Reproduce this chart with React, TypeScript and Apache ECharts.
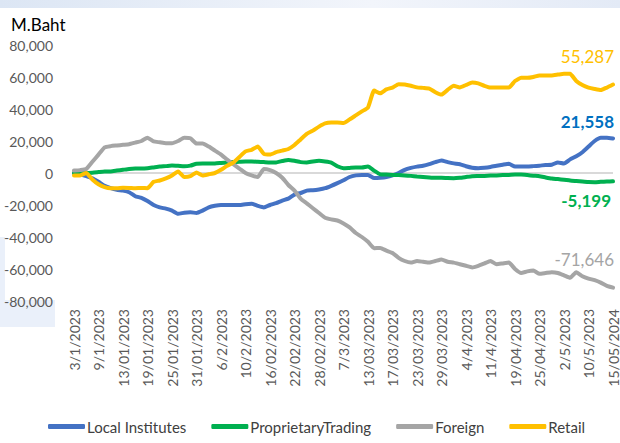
import React, { useEffect, useRef } from "react";
import * as echarts from "echarts";

const categories = [
  "3/1/2023", "4/1/2023", "5/1/2023", "6/1/2023", "9/1/2023", "10/1/2023", "11/1/2023", "12/1/2023", "13/01/2023", "16/01/2023",
  "17/01/2023", "18/01/2023", "19/01/2023", "20/01/2023", "23/01/2023", "24/01/2023", "25/01/2023", "26/01/2023", "27/01/2023", "30/01/2023",
  "31/01/2023", "1/2/2023", "2/2/2023", "3/2/2023", "6/2/2023", "7/2/2023", "8/2/2023", "9/2/2023", "10/2/2023", "13/02/2023",
  "14/02/2023", "15/02/2023", "16/02/2023", "17/02/2023", "20/02/2023", "21/02/2023", "22/02/2023", "23/02/2023", "24/02/2023", "27/02/2023",
  "28/02/2023", "1/3/2023", "2/3/2023", "3/3/2023", "7/3/2023", "8/3/2023", "9/3/2023", "10/3/2023", "13/03/2023", "14/03/2023",
  "15/03/2023", "16/03/2023", "17/03/2023", "20/03/2023", "21/03/2023", "22/03/2023", "23/03/2023", "24/03/2023", "27/03/2023", "28/03/2023",
  "29/03/2023", "30/03/2023", "31/03/2023", "3/4/2023", "4/4/2023", "5/4/2023", "7/4/2023", "10/4/2023", "11/4/2023", "12/4/2023",
  "17/04/2023", "18/04/2023", "19/04/2023", "20/04/2023", "21/04/2023", "24/04/2023", "25/04/2023", "26/04/2023", "27/04/2023", "28/04/2023",
  "2/5/2023", "3/5/2023", "5/5/2023", "9/5/2023", "10/5/2023", "11/5/2023", "12/5/2023", "14/05/2024", "15/05/2024",
];

const localInstitutes = [
  0, -800, -2000, -3400, -5500, -8000, -9500, -10500, -11000, -12000,
  -14500, -15500, -17500, -20000, -21500, -22300, -23500, -25500, -24800, -24500,
  -25000, -23500, -21500, -20500, -20000, -20000, -20000, -20000, -19500, -19200,
  -20500, -21500, -20000, -18800, -17200, -16000, -13500, -12500, -11000, -10800,
  -10300, -9500, -8000, -6300, -4500, -2500, -1500, -1200, -1200, -3200,
  -3000, -2500, -1500, 0, 2000, 3200, 4000, 4500, 5500, 6800,
  7800, 6800, 6000, 5500, 4200, 3300, 3000, 3300, 3800, 4500,
  5200, 5800, 4000, 4000, 4000, 4300, 4600, 5000, 5200, 6600,
  6000, 8500, 10500, 13000, 16500, 20000, 22000, 22000, 21558,
];

const proprietaryTrading = [
  0, 0, 0, 200, 600, 1000, 1000, 1500, 2000, 2500,
  2800, 2800, 3000, 3500, 4000, 4300, 4700, 4500, 4200, 4600,
  5800, 5900, 5900, 6000, 6300, 6600, 6800, 7000, 7200, 7200,
  7000, 6800, 6600, 6600, 7500, 8200, 7600, 6800, 6600, 7200,
  7600, 7200, 6500, 4200, 3000, 3200, 3400, 3400, 4000, 1500,
  -800, -1000, -1200, -1300, -1500, -1800, -2200, -2500, -2800, -3000,
  -3000, -3200, -3300, -3000, -2500, -2000, -1900, -1800, -1600, -1500,
  -1300, -1200, -1000, -1000, -1300, -1700, -2000, -2800, -3500, -3800,
  -4200, -4700, -5000, -5300, -5700, -5800, -5500, -5300, -5199,
];

const foreign = [
  1500, 1800, 2500, 7000, 11500, 16000, 16800, 17200, 17600, 18000,
  19000, 20000, 22000, 19700, 19200, 18600, 18600, 20000, 22000, 21700,
  18400, 18400, 16500, 14000, 11500, 8400, 5500, 2800, 0, -1500,
  -2500, 2500, 1800, 0, -3000, -7500, -11000, -16000, -19000, -22000,
  -25000, -28000, -29000, -29700, -31500, -34000, -37500, -40000, -43000, -47000,
  -46800, -48500, -50000, -53000, -55000, -56000, -55000, -55500, -56000, -55000,
  -54000, -55500, -56000, -57000, -58000, -59000, -58000, -56500, -55000, -57000,
  -56500, -56000, -60000, -62500, -61500, -61000, -63000, -62500, -62000, -62500,
  -64000, -65500, -62000, -64500, -66000, -67000, -68500, -70500, -71646,
];

const retail = [
  -1500, -1500, 0, -4000, -7000, -8800, -9500, -9500, -9200, -9300,
  -9500, -9300, -9500, -5500, -4700, -3300, -1500, 1000, -2500, -2000,
  300, -1500, -800, 0, 2000, 4500, 6500, 10000, 13500, 14500,
  16500, 12000, 11500, 13000, 14000, 15000, 17500, 21000, 24500, 26500,
  29000, 31000, 31500, 31500, 31200, 33500, 36000, 38500, 41000, 51500,
  49800, 52300, 53400, 55500, 55300, 54500, 53500, 53200, 52800, 50500,
  49000, 52000, 54500, 53500, 55000, 56500, 56000, 54500, 53400, 53400,
  53400, 53400, 57500, 59500, 59500, 60000, 61000, 61000, 61000, 61500,
  62000, 62000, 57500, 55000, 53400, 52500, 51800, 53400, 55287,
];

const seriesNames = ["Local Institutes", "ProprietaryTrading", "Foreign", "Retail"];
const endLabelTexts = ["21,558", "-5,199", "-71,646", "55,287"];
const yMin = -80000;
const yMax = 80000;
const yInterval = 20000;

const FONT = "Lato, 'Noto Sans', sans-serif";

export default function App() {
  const ref = useRef<HTMLDivElement>(null);

  useEffect(() => {
    if (!ref.current) return;
    const chart = echarts.init(ref.current, undefined, { renderer: "svg" });
    const colors = ["#4472C4", "#00B050", "#A5A5A5", "#FFC000"];
    const labelColors = ["#0070C0", "#00B050", "#A5A5A5", "#FFC000"];
    const labelWeights = ["bold", "bold", "normal", "normal"];
    const labelOffsets = [[1, -17], [-2, 19], [1, -28], [1, -28]];
    const datasets = [localInstitutes, proprietaryTrading, foreign, retail];
    const zeroIdx = (0 - yMin) / yInterval;
    const splitColors = [];
    for (let i = 0; i <= (yMax - yMin) / yInterval; i++) {
      splitColors.push(i === zeroIdx ? "#D9D9D9" : "rgba(0,0,0,0)");
    }

    chart.setOption({
      animation: false,
      textStyle: { fontFamily: FONT },
      graphic: [
        {
          type: "rect",
          z: -10,
          shape: { x: 0, y: 0, width: 620, height: 8 },
          style: {
            fill: new echarts.graphic.LinearGradient(0, 0, 1, 0, [
              { offset: 0, color: "#DCE6F4" },
              { offset: 0.6, color: "#F2F5FB" },
              { offset: 1, color: "#E3EAF6" },
            ]),
          },
        },
        {
          type: "rect",
          z: -10,
          shape: { x: 0, y: 237, width: 5, height: 65 },
          style: { fill: "#EAF0FA" },
        },
        {
          type: "rect",
          z: -10,
          shape: { x: 0, y: 300, width: 55, height: 27 },
          style: { fill: "#EAF0FA" },
        },
      ],
      title: {
        text: "M.Baht",
        left: 6,
        top: 11,
        textStyle: { fontFamily: FONT, fontSize: 17, fontWeight: "normal", color: "#000000" },
      },
      legend: {
        data: seriesNames,
        left: 48,
        top: 419,
        padding: 0,
        itemGap: 25,
        itemWidth: 37,
        itemHeight: 5,
        icon: "roundRect",
        textStyle: { fontFamily: FONT, fontSize: 15, color: "#404040", padding: [0, 0, 0, -3] },
      },
      grid: { left: 74, right: 6, top: 45, bottom: 142, containLabel: false },
      xAxis: {
        type: "category",
        data: categories,
        boundaryGap: false,
        axisLine: { show: false },
        axisTick: { show: false },
        axisLabel: {
          interval: 3,
          rotate: 90,
          margin: 8,
          fontSize: 14,
          color: "#595959",
          fontFamily: FONT,
        },
        splitLine: { show: false },
      },
      yAxis: {
        type: "value",
        min: yMin,
        max: yMax,
        interval: yInterval,
        axisLine: { show: false },
        axisTick: { show: false },
        axisLabel: {
          margin: 21,
          fontSize: 14,
          color: "#595959",
          fontFamily: FONT,
          formatter: (v: number) => v.toLocaleString("en-US"),
        },
        splitLine: { show: true, lineStyle: { color: splitColors, width: 2 } },
      },
      series: datasets.map((d, i) => ({
        name: seriesNames[i],
        type: "line",
        data: d,
        symbol: "none",
        showSymbol: false,
        smooth: 0.15,
        color: colors[i],
        lineStyle: { width: 4, color: colors[i], join: "round", cap: "round" },
        endLabel: {
          show: true,
          formatter: () => endLabelTexts[i],
          align: "right",
          verticalAlign: "middle",
          distance: 0,
          offset: labelOffsets[i],
          color: labelColors[i],
          fontSize: 17,
          fontWeight: labelWeights[i],
          fontFamily: FONT,
        },
      })),
    });

    return () => chart.dispose();
  }, []);

  return (
    <div
      ref={ref}
      style={{ position: "fixed", left: 0, top: 0, width: 620, height: 443, background: "#ffffff" }}
    />
  );
}
